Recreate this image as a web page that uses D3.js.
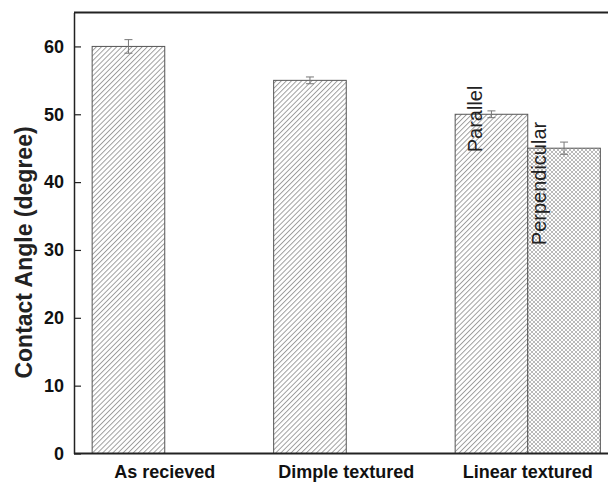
<!DOCTYPE html>
<html lang="en">
<head>
    <meta charset="UTF-8">
    <title>Contact Angle</title>
    <script src="https://d3js.org/d3.v7.min.js"></script>
    <style>
        body {
            margin: 0;
            background: #fff;
        }
        svg {
            display: block;
            overflow: hidden;
        }
        .axis text {
            font-family: "Liberation Sans", Arial, sans-serif;
            font-weight: bold;
            font-size: 18px;
            fill: #111;
        }
    </style>
</head>
<body>
    <svg id="chart" width="608" height="482"></svg>

    <script>
        // Données
        const categories = ["As recieved", "Dimple textured", "Linear textured"];
        const categoryPos = [1.2, 2.2, 3.2];
        const barNames = ["As recieved", "Dimple textured", "Parallel", "Perpendicular"];
        const barPos = [1, 2, 3, 3.4];
        const barValues = [60, 55, 50, 45];
        const barErrors = [1.0, 0.5, 0.5, 0.9];
        const barFills = ["hatch", "hatch", "hatch", "cross"];
        const yTicks = [0, 10, 20, 30, 40, 50, 60];
        const labelTexts = ["Parallel", "Perpendicular"];
        const labelX = [2.948, 3.3];
        const labelY = [44.4, 30.7];

        const plotLeft = 74, plotTop = 12.5, plotBottom = 453.5;
        const svg = d3.select("#chart");

        // Échelles
        const x = d3.scaleLinear().domain([0.7, 3.85]).range([plotLeft, plotLeft + 3.15 * 181.5]);
        const y = d3.scaleLinear().domain([0, 65]).range([plotBottom, plotTop]);
        const barW = x(1.4) - x(1);

        // Motifs de hachures
        const defs = svg.append("defs");
        defs.append("pattern")
            .attr("id", "hatch")
            .attr("patternUnits", "userSpaceOnUse")
            .attr("width", 3.6)
            .attr("height", 10)
            .attr("patternTransform", "rotate(45)")
            .append("line")
            .attr("x1", 0.5).attr("y1", 0)
            .attr("x2", 0.5).attr("y2", 10)
            .attr("stroke", "#8f8f8f")
            .attr("stroke-width", 0.9);

        const cross = defs.append("pattern")
            .attr("id", "cross")
            .attr("patternUnits", "userSpaceOnUse")
            .attr("width", 4)
            .attr("height", 4);
        cross.append("rect").attr("width", 4).attr("height", 4).attr("fill", "#fff");
        cross.append("path")
            .attr("d", "M0,0 L4,4 M4,0 L0,4")
            .attr("stroke", "#a8a8a8")
            .attr("stroke-width", 0.8);

        // Barres
        svg.selectAll(".bar")
            .data(barValues)
            .enter()
            .append("rect")
            .attr("class", "bar")
            .attr("x", (d, i) => x(barPos[i]) - barW / 2)
            .attr("y", d => y(d))
            .attr("width", barW)
            .attr("height", d => y(0) - y(d))
            .attr("fill", (d, i) => `url(#${barFills[i]})`)
            .attr("stroke", "#555")
            .attr("stroke-width", 1);

        // Barres d'erreur
        const err = svg.selectAll(".err")
            .data(barValues)
            .enter()
            .append("g")
            .attr("class", "err")
            .attr("stroke", "#777")
            .attr("stroke-width", 1);
        err.append("line")
            .attr("x1", (d, i) => x(barPos[i])).attr("x2", (d, i) => x(barPos[i]))
            .attr("y1", (d, i) => y(d + barErrors[i])).attr("y2", (d, i) => y(d - barErrors[i]));
        err.append("line")
            .attr("x1", (d, i) => x(barPos[i]) - 4).attr("x2", (d, i) => x(barPos[i]) + 4)
            .attr("y1", (d, i) => y(d + barErrors[i])).attr("y2", (d, i) => y(d + barErrors[i]));
        err.append("line")
            .attr("x1", (d, i) => x(barPos[i]) - 4).attr("x2", (d, i) => x(barPos[i]) + 4)
            .attr("y1", (d, i) => y(d - barErrors[i])).attr("y2", (d, i) => y(d - barErrors[i]));

        // Étiquettes verticales
        svg.selectAll(".bar-label")
            .data(labelTexts)
            .enter()
            .append("text")
            .attr("class", "bar-label")
            .attr("transform", (d, i) => `translate(${x(labelX[i])},${y(labelY[i])}) rotate(-90)`)
            .attr("font-family", "'Liberation Sans', Arial, sans-serif")
            .attr("font-size", "20px")
            .attr("fill", "#222")
            .text(d => d);

        // Cadre
        svg.append("line")
            .attr("x1", plotLeft).attr("x2", 620)
            .attr("y1", plotTop).attr("y2", plotTop)
            .attr("stroke", "#222").attr("stroke-width", 2);

        // Axe Y
        svg.append("g")
            .attr("class", "axis")
            .attr("transform", `translate(${plotLeft},0)`)
            .call(d3.axisLeft(y).tickValues(yTicks).tickSizeInner(-7).tickSizeOuter(0).tickPadding(10))
            .call(g => g.select(".domain").attr("stroke", "#222").attr("stroke-width", 1.5))
            .call(g => g.selectAll(".tick line").attr("stroke", "#222").attr("stroke-width", 1.2));

        // Axe X
        const xAxis = svg.append("g")
            .attr("class", "axis")
            .attr("transform", `translate(0,${plotBottom})`);
        xAxis.append("line")
            .attr("x1", plotLeft).attr("x2", 620)
            .attr("stroke", "#222").attr("stroke-width", 2);
        xAxis.selectAll(".cat")
            .data(categories)
            .enter()
            .append("text")
            .attr("x", (d, i) => x(categoryPos[i]))
            .attr("y", 24)
            .attr("text-anchor", "middle")
            .attr("font-size", "20px")
            .text(d => d);

        // Titre de l'axe Y
        svg.append("text")
            .attr("transform", `translate(24,${(122 + 383) / 2}) rotate(-90)`)
            .attr("text-anchor", "middle")
            .attr("dominant-baseline", "central")
            .attr("font-family", "'Liberation Sans', Arial, sans-serif")
            .attr("font-weight", "bold")
            .attr("font-size", "23px")
            .attr("fill", "#222")
            .text("Contact Angle (degree)");
    </script>
</body>
</html>
